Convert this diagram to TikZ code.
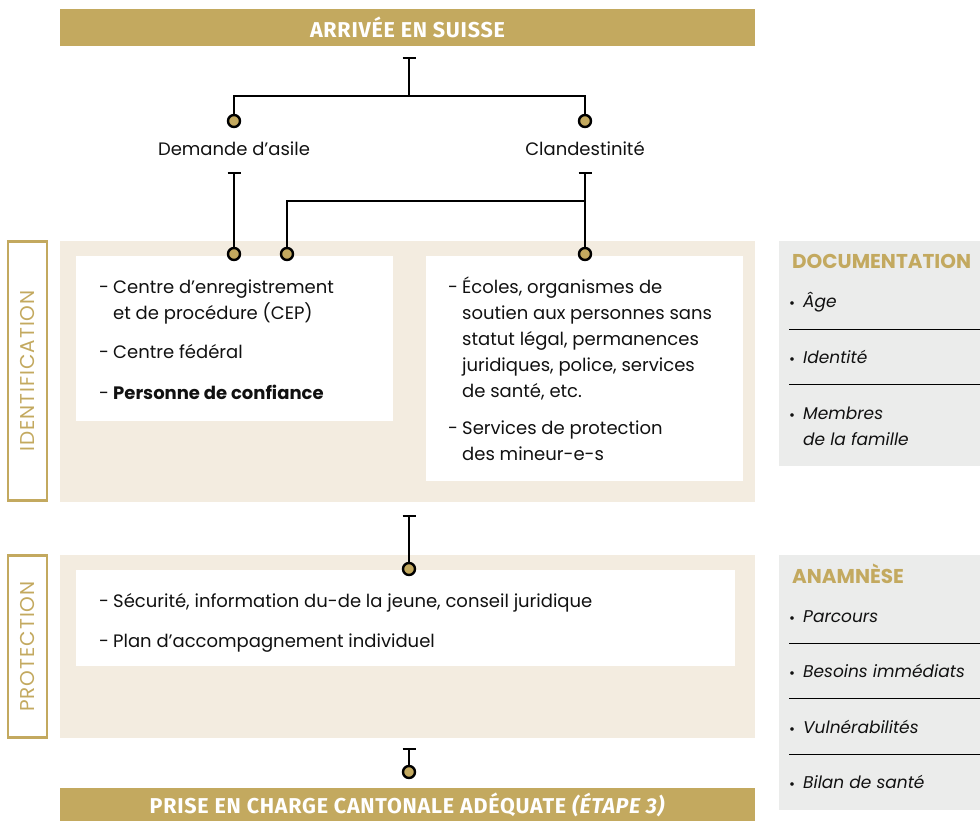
\documentclass[tikz,border=0pt]{standalone}
\usepackage{fontspec}
\setmainfont{Poppins}
\newfontfamily\barfont[LetterSpace=3.5]{Fira Sans}
\newfontfamily\labelfont[LetterSpace=5]{Poppins}
\usetikzlibrary{arrows.meta}
\definecolor{gold}{HTML}{C3A95F}
\definecolor{sand}{HTML}{F3ECE0}
\definecolor{panelgrey}{HTML}{EBECEB}
\definecolor{ink}{HTML}{111111}
\tikzset{
  bar/.style={fill=gold, text=white, font=\barfont\bfseries\fontsize{21.5}{24}\selectfont,
    minimum width=695pt, minimum height=37pt, inner sep=0pt},
  dot/.style={circle, draw=black, line width=2.4pt, fill=gold, minimum size=12pt, inner sep=0pt},
  link/.style={draw=black, line width=2.4pt},
  tee/.style={link, {Bar[width=13pt,line width=2.4pt]}-},
  body/.style={text=ink, font=\fontsize{18}{26}\selectfont, anchor=base west, align=left, inner sep=0pt},
  branch/.style={text=ink, font=\fontsize{18}{20}\selectfont, inner sep=0pt},
  sidelabel/.style={draw=gold, line width=2.5pt, text=gold, rotate=90,
    font=\labelfont\fontsize{20}{22}\selectfont, inner sep=0pt},
  panelhead/.style={text=gold, font=\bfseries\fontsize{20}{22}\selectfont, anchor=base west, inner sep=0pt},
  paneltext/.style={text=ink, font=\itshape\fontsize{17}{26}\selectfont, anchor=base west, align=left, inner sep=0pt},
  bullet/.style={text=ink, font=\bfseries\fontsize{12}{14}\selectfont, anchor=base west, inner sep=0pt},
  rule/.style={draw=black, line width=0.9pt},
}
\begin{document}
\begin{tikzpicture}[x=1pt, y=-1pt]
\useasboundingbox (0,0) rectangle (980,821);

% bands and boxes
\fill[sand] (60,241) rectangle (755,502);
\fill[sand] (60,555) rectangle (755,738);
\fill[white] (76,256) rectangle (393,421);
\fill[white] (426,256) rectangle (743,481);
\fill[white] (76,570) rectangle (735,666);
\fill[panelgrey] (779,241) rectangle (980,466);
\fill[panelgrey] (779,555) rectangle (980,810);

% top and bottom bars
\node[bar] (arrival) at (407.5,27.5) {ARRIVÉE EN SUISSE};
\node[bar, minimum height=33pt] (canton) at (407.5,804.5)
  {PRISE EN CHARGE CANTONALE ADÉQUATE \textit{(ÉTAPE 3)}};

% side labels
\node[sidelabel, minimum width=259pt, minimum height=39pt] (ident) at (27.5,371) {IDENTIFICATION};
\node[sidelabel, minimum width=182pt, minimum height=39pt] (protect) at (27.5,646.5) {PROTECTION};

% branches
\node[branch] (asile) at (234,149) {Demande d’asile};
\node[branch] (clandes) at (585,149) {Clandestinité};

% dots
\node[dot] (d1) at (234,121) {};
\node[dot] (d2) at (585,121) {};
\node[dot] (e1) at (234,254) {};
\node[dot] (e2) at (287,254) {};
\node[dot] (e3) at (585,254) {};
\node[dot] (p1) at (409,569) {};
\node[dot] (f1) at (409,772) {};

% tee ends and junctions
\coordinate (t0) at (409,57);
\coordinate (j0) at (409,96);
\coordinate (t1) at (234,172);
\coordinate (t2) at (585,172);
\coordinate (j2) at (585,201);
\coordinate (t3) at (409,515);
\coordinate (t4) at (409,748);

% connectors
\draw[tee] (t0) -- (j0) -| (d1);
\draw[link] (j0) -| (d2);
\draw[tee] (t1) -- (e1);
\draw[tee] (t2) -- (e3);
\draw[link] (j2) -| (e2);
\draw[tee] (t3) -- (p1);
\draw[tee] (t4) -- (f1);

% identification, left box (multi-line nodes sit on their last baseline)
\node[body] (la) at (99,293) {-};
\node[body] (lb) at (113,319) {Centre d’enregistrement\\et de procédure (CEP)};
\node[body] (lc) at (99,358) {-};
\node[body] (ld) at (113,358) {Centre fédéral};
\node[body] (le) at (99,399) {-};
\node[body, font=\bfseries\fontsize{18}{26}\selectfont] (lf) at (113,399) {Personne de confiance};

% identification, right box
\node[body] (ra) at (448,293) {-};
\node[body] (rb) at (462,397) {Écoles, organismes de\\soutien aux personnes sans\\statut légal, permanences\\juridiques, police, services\\de santé, etc.};
\node[body] (rc) at (448,434) {-};
\node[body] (rd) at (462,460) {Services de protection\\des mineur-e-s};

% protection box
\node[body] (pa) at (99,607) {-};
\node[body] (pb) at (113,607) {Sécurité, information du-de la jeune, conseil juridique};
\node[body] (pc) at (99,647) {-};
\node[body] (pd) at (113,647) {Plan d’accompagnement individuel};

% documentation panel
\node[panelhead] (doc) at (792,269) {DOCUMENTATION};
\node[bullet] (b1) at (789,307) {•};
\node[paneltext] (i1) at (803,307) {Âge};
\draw[rule] (789,329) -- (980,329);
\node[bullet] (b2) at (789,363) {•};
\node[paneltext] (i2) at (803,363) {Identité};
\draw[rule] (789,384) -- (980,384);
\node[bullet] (b3) at (789,419) {•};
\node[paneltext] (i3) at (803,445) {Membres\\de la famille};

% anamnesis panel
\node[panelhead] (ana) at (792,583) {ANAMNÈSE};
\node[bullet] (a1) at (789,622) {•};
\node[paneltext] (k1) at (803,622) {Parcours};
\draw[rule] (789,643) -- (980,643);
\node[bullet] (a2) at (789,677) {•};
\node[paneltext] (k2) at (803,677) {Besoins immédiats};
\draw[rule] (789,698) -- (980,698);
\node[bullet] (a3) at (789,733) {•};
\node[paneltext] (k3) at (803,733) {Vulnérabilités};
\draw[rule] (789,754) -- (980,754);
\node[bullet] (a4) at (789,788) {•};
\node[paneltext] (k4) at (803,788) {Bilan de santé};
\end{tikzpicture}
\end{document}
